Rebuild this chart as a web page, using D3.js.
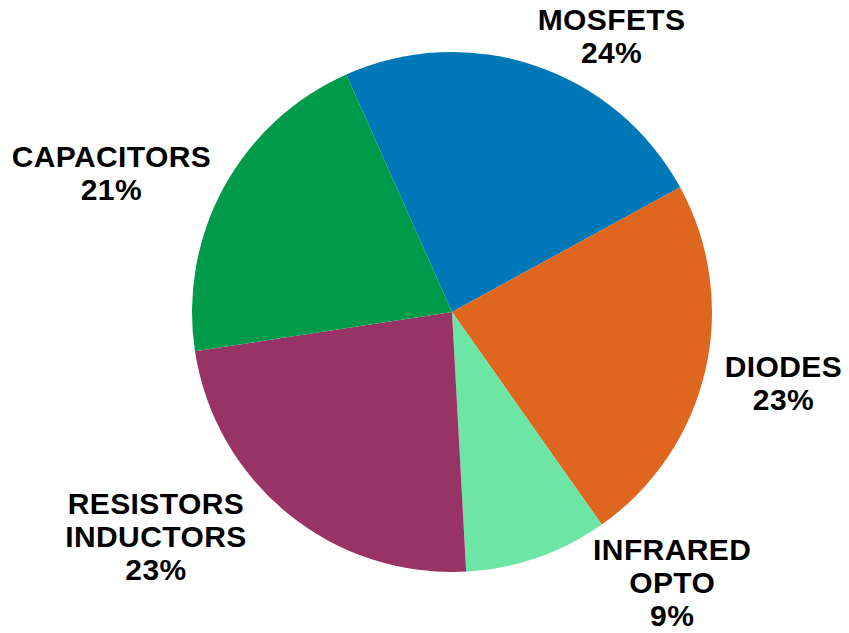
<!DOCTYPE html>
<html>
<head>
<meta charset="utf-8">
<script src="https://cdn.jsdelivr.net/npm/d3@7"></script>
<style>
  html, body { margin: 0; padding: 0; background: #fff; }
  svg { display: block; }
</style>
</head>
<body>
<svg id="chart"></svg>
<script>
// data
const categories = ["MOSFETS", "DIODES", "INFRARED OPTO", "RESISTORS INDUCTORS", "CAPACITORS"];
const labelLines = [["MOSFETS"], ["DIODES"], ["INFRARED", "OPTO"], ["RESISTORS", "INDUCTORS"], ["CAPACITORS"]];
const values = [23.7, 23.2, 8.9, 23.45, 20.75];
const colors = ["#0077b6", "#de661e", "#6de6a5", "#983365", "#009a4b"];

// layout
const width = 849, height = 633;
const cx = 452, cy = 312, radius = 260;
const startDeg = -24;
const labelR = 330;
const lineH = 33, capH = 21;
// label nudges off the centroid, Excel-ish placement
const nudges = [[54, 37], [10, -4], [112, -41], [-88, -32], [-51, 19]];

const svg = d3.select("#chart").attr("width", width).attr("height", height);
const g = svg.append("g").attr("transform", `translate(${cx},${cy})`);

const pie = d3.pie().sort(null).value(d => d)
  .startAngle(startDeg * Math.PI / 180)
  .endAngle(2 * Math.PI + startDeg * Math.PI / 180);
const arcs = pie(values);

const arc = d3.arc().innerRadius(0).outerRadius(radius);
const labelArc = d3.arc().innerRadius(labelR).outerRadius(labelR);

g.selectAll("path.slice")
  .data(arcs)
  .join("path")
  .attr("class", "slice")
  .attr("d", arc)
  .attr("fill", (d, i) => colors[i]);

const total = d3.sum(values);

const labels = g.selectAll("text.lbl")
  .data(arcs)
  .join("text")
  .attr("class", "lbl")
  .attr("text-anchor", "middle")
  .attr("font-family", "Arial, 'Liberation Sans', sans-serif")
  .attr("font-weight", "bold")
  .attr("font-size", 30)
  .attr("letter-spacing", 0.4)
  .attr("fill", "#000");

labels.each(function(d, i) {
  const [x0, y0] = labelArc.centroid(d);
  const x = x0 + nudges[i][0], y = y0 + nudges[i][1];
  const lines = labelLines[i].concat([Math.round(d.value / total * 100) + "%"]);
  const blockH = capH + (lines.length - 1) * lineH;
  const firstBase = y - blockH / 2 + capH;
  d3.select(this).selectAll("tspan")
    .data(lines)
    .join("tspan")
    .attr("x", x)
    .attr("y", (t, j) => firstBase + j * lineH)
    .text(t => t);
});
</script>
</body>
</html>
